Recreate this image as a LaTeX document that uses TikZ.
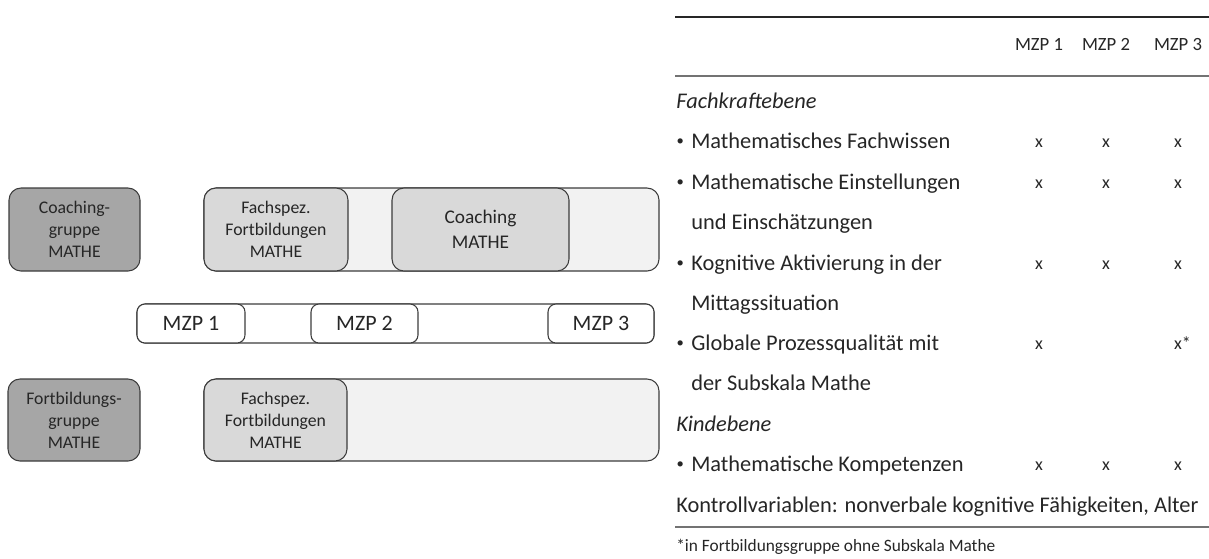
\documentclass[tikz,border=0pt]{standalone}
\usepackage{fontspec}
\setmainfont{Carlito}
\definecolor{groupfill}{HTML}{A6A6A6}
\definecolor{phasefill}{HTML}{D9D9D9}
\definecolor{rowfill}{HTML}{F2F2F2}
\definecolor{edge}{HTML}{3C3C3C}
\definecolor{ink}{HTML}{262626}
% small list bullet hanging left of the item text
\newcommand{\itemdot}{\llap{{\fontsize{11}{11}\selectfont\raisebox{1.6pt}{•}}\hspace{5.5pt}}}
\begin{document}
\begin{tikzpicture}[x=0.75pt,y=-0.75pt,
  sz/.style 2 args={minimum width=#1*0.75pt, minimum height=#2*0.75pt},
  box/.style={draw=edge, line width=0.8pt, rounded corners=9pt, align=center,
    text=ink, inner sep=0pt, font=\fontsize{13.3}{16.4}\selectfont},
  group/.style={box, fill=groupfill},
  phase/.style={box, fill=phasefill},
  track/.style={box, fill=rowfill},
  mzp/.style={box, fill=white, rounded corners=6pt, font=\fontsize{16.5}{18}\selectfont},
  item/.style={anchor=base west, inner sep=0pt, text=ink, font=\fontsize{16.8}{20}\selectfont},
  level/.style={item, font=\fontsize{16.8}{20}\selectfont\itshape},
  tick/.style={anchor=base, inner sep=0pt, text=ink, font=\fontsize{13.5}{16}\selectfont},
  head/.style={anchor=base, inner sep=0pt, text=ink, font=\fontsize{14}{16}\selectfont},
  note/.style={anchor=base west, inner sep=0pt, text=ink, font=\fontsize{13}{15}\selectfont},
  rule/.style={line width=1.1pt, draw=black!85},
  softrule/.style={line width=1.6pt, draw=black!55},
]
\useasboundingbox (0,0) rectangle (1209,558);

% --- coaching group: timeline of activities
\node[group, sz={131}{83}] (cg) at (74.5,229.5) {Coaching-\\gruppe\\MATHE};
\node[track, sz={455}{83}] (ctrack) at (431.5,229.5) {};
\node[phase, sz={144}{83}] (cfb) at (276,229.5) {Fachspez.\\Fortbildungen\\MATHE};
\node[phase, sz={177}{83}, font=\fontsize{14.5}{19}\selectfont] (cco) at (480.5,229.5) {Coaching\\MATHE};

% --- measurement points
\node[mzp, sz={517}{39}] (mtrack) at (395.5,323.5) {};
\node[mzp, sz={108}{39}] (m1) at (191,323.5) {MZP 1};
\node[mzp, sz={107}{39}] (m2) at (364.5,323.5) {MZP 2};
\node[mzp, sz={106}{39}] (m3) at (601,323.5) {MZP 3};

% --- training group
\node[group, sz={132}{82}] (fg) at (74,420) {Fortbildungs-\\gruppe\\MATHE};
\node[track, sz={455}{82}] (ftrack) at (431.5,420) {};
\node[phase, sz={143}{82}] (ffb) at (275.5,420) {Fachspez.\\Fortbildungen\\MATHE};

% --- table of measures
\draw[rule] (675,17) -- (1209,17);
\node[head] (h1) at (1039,50) {MZP 1};
\node[head] (h2) at (1106,50) {MZP 2};
\node[head] (h3) at (1178,50) {MZP 3};
\draw[softrule] (675,76) -- (1209,76);

\node[level] (lv1) at (676,108) {Fachkraftebene};
\node[item] (r1) at (691,148) {\itemdot Mathematisches Fachwissen};
\node[item] (r2) at (691,189) {\itemdot Mathematische Einstellungen};
\node[item] (r2b) at (691,229) {und Einschätzungen};
\node[item] (r3) at (691,270) {\itemdot Kognitive Aktivierung in der};
\node[item] (r3b) at (691,310) {Mittagssituation};
\node[item] (r4) at (691,350) {\itemdot Globale Prozessqualität mit};
\node[item] (r4b) at (691,390) {der Subskala Mathe};
\node[level] (lv2) at (676,431) {Kindebene};
\node[item] (r5) at (691,471) {\itemdot Mathematische Kompetenzen};
\node[item] (ctrl) at (676,512) {Kontrollvariablen: nonverbale kognitive Fähigkeiten, Alter};
\draw[softrule] (675,527) -- (1209,527);
\node[note] (fn) at (676,551) {*in Fortbildungsgruppe ohne Subskala Mathe};

% ticks per measurement point
\foreach \row/\yy in {1/147,2/188,3/269,5/470}{
  \node[tick] (t\row a) at (1039,\yy) {x};
  \node[tick] (t\row b) at (1106,\yy) {x};
  \node[tick] (t\row c) at (1178,\yy) {x};
}
\node[tick] (t4a) at (1039,349) {x};
\node[tick] (t4c) at (1178,349) {x\rlap{*}};
\end{tikzpicture}
\end{document}
